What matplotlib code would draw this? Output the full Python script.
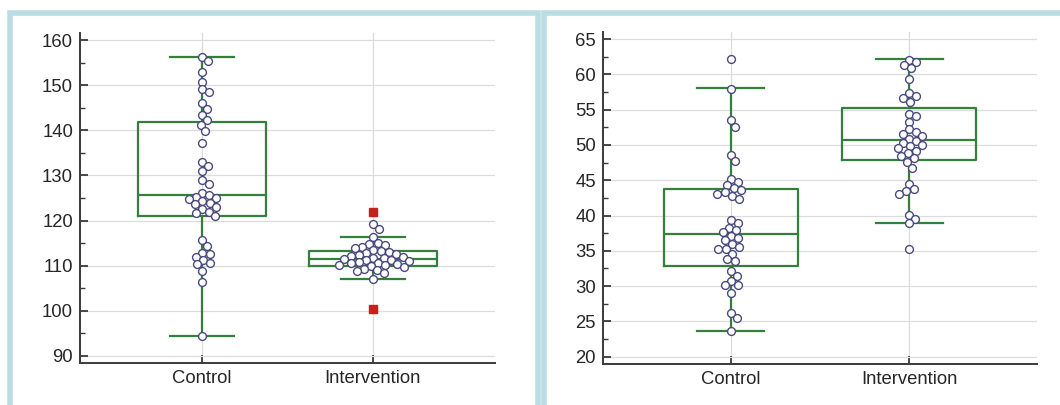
import matplotlib
matplotlib.use("Agg")
import matplotlib.pyplot as plt
import numpy as np
from matplotlib.patches import Rectangle
from matplotlib.ticker import MultipleLocator

plt.rcParams["font.family"] = ["Liberation Sans", "DejaVu Sans"]

groups = ["Control", "Intervention"]

# left panel: individual values
left_control = [156.2, 155.3, 153.0, 150.8, 149.2, 148.5, 146.0, 144.8, 143.5, 142.3,
                141.2, 139.8, 137.3, 132.9, 132.0, 131.0, 128.9, 128.2, 126.2, 125.6,
                125.3, 125.0, 124.8, 124.3, 124.0, 123.6, 123.0, 122.5, 122.0, 121.6,
                121.0, 115.6, 114.4, 112.9, 112.6, 111.9, 111.3, 110.6, 110.3, 108.9,
                106.4, 94.4]
left_interv = [119.2, 118.2, 116.3, 115.1, 114.9, 114.6, 114.2, 113.8, 113.4, 113.2,
               113.0, 112.8, 112.6, 112.4, 112.2, 112.0, 111.8, 111.7, 111.5, 111.3,
               111.2, 111.0, 110.8, 110.6, 110.5, 110.3, 110.2, 110.1, 109.9, 109.6,
               109.3, 109.0, 108.8, 108.4, 107.0]

# left panel: box summaries
left_med = [125.7, 111.5]
left_q1 = [121.1, 110.0]
left_q3 = [141.9, 113.2]
left_lo = [94.4, 107.1]
left_hi = [156.3, 116.4]
left_out = [[], [122.0, 100.4]]

# right panel: individual values
right_control = [62.2, 57.9, 53.5, 52.6, 48.6, 47.7, 45.2, 44.8, 44.3, 43.9,
                 43.6, 43.3, 43.1, 42.8, 42.4, 39.3, 38.9, 38.3, 37.9, 37.6,
                 37.1, 36.8, 36.5, 36.0, 35.6, 35.3, 35.2, 34.6, 33.8, 33.6,
                 32.1, 31.4, 30.7, 30.2, 30.1, 29.0, 26.2, 25.5, 23.6]
right_interv = [62.1, 61.7, 61.3, 60.9, 59.4, 57.3, 56.9, 56.6, 56.1, 54.4,
                54.1, 53.3, 52.2, 51.8, 51.5, 51.2, 50.9, 50.6, 50.3, 50.0,
                49.8, 49.5, 49.2, 48.8, 48.5, 48.1, 47.6, 46.8, 44.5, 43.7,
                43.5, 43.0, 40.1, 39.5, 38.9, 35.2]

# right panel: box summaries
right_med = [37.45, 50.7]
right_q1 = [32.9, 47.8]
right_q3 = [43.8, 55.2]
right_lo = [23.6, 38.9]
right_hi = [58.0, 62.2]
right_out = [[], []]

GREEN = "#33803a"
FRAME = "#badde4"


def swarm_x(ax, x0, vals, gap=7.2):
    # simple beeswarm in pixel space, points may overlap a little
    pts = ax.transData.transform([(x0, v) for v in vals])
    placed = []
    for px, py in pts:
        for k in range(300):
            off = (k + 1) // 2 * (1 if k % 2 else -1)
            cx = px + off
            if all((cx - qx) ** 2 + (py - qy) ** 2 >= gap ** 2 for qx, qy in placed):
                break
        placed.append((cx, py))
    return ax.transData.inverted().transform(placed)[:, 0]


def panel(ax, ctrl, interv, med, q1, q3, lo, hi, out, ylim, major, minor):
    ax.set_xlim(-0.715, 1.715)
    ax.set_ylim(*ylim)

    stats = []
    for i in range(2):
        stats.append(dict(med=med[i], q1=q1[i], q3=q3[i], whislo=lo[i],
                          whishi=hi[i], fliers=out[i]))
    line = dict(color=GREEN, linewidth=1.6)
    ax.bxp(stats, positions=[0, 1], widths=0.75, capwidths=0.375,
           boxprops=line, whiskerprops=line, capprops=line, medianprops=line,
           flierprops=dict(marker="s", markersize=6, markerfacecolor="#c3201e",
                           markeredgecolor="#c3201e", linestyle="none"),
           manage_ticks=False, zorder=2)

    for i, vals in enumerate([ctrl, interv]):
        xs = swarm_x(ax, i, vals)
        ax.scatter(xs, vals, s=32, facecolor="white", edgecolor="#4a4a7e",
                   linewidth=1.0, zorder=3)

    ax.set_xlim(-0.715, 1.715)
    ax.set_ylim(*ylim)
    ax.set_xticks([0, 1])
    ax.set_xticklabels(groups)
    ax.yaxis.set_major_locator(MultipleLocator(major))
    ax.yaxis.set_minor_locator(MultipleLocator(minor))
    ax.grid(True, color="#dcdcdc", linewidth=0.9, zorder=0)
    ax.set_axisbelow(True)
    for s in ["top", "right"]:
        ax.spines[s].set_visible(False)
    for s in ["left", "bottom"]:
        ax.spines[s].set_color("#3a3a3a")
        ax.spines[s].set_linewidth(1.4)
    ax.tick_params(axis="both", which="major", direction="in", length=6,
                   width=1.3, color="#3a3a3a", labelsize=13.3, labelcolor="#262626",
                   pad=5)
    ax.tick_params(axis="y", which="minor", direction="in", length=3.5,
                   width=1.0, color="#3a3a3a")


fig = plt.figure(figsize=(10.6, 4.05), dpi=100)
W, H = 1060, 405

ax1 = fig.add_axes([80 / W, (H - 363) / H, 415 / W, 330 / H])
ax2 = fig.add_axes([603 / W, (H - 364) / H, 434 / W, 332 / H])

panel(ax1, left_control, left_interv, left_med, left_q1, left_q3, left_lo,
      left_hi, left_out, (88.4, 161.6), 10, 5)
panel(ax2, right_control, right_interv, right_med, right_q1, right_q3, right_lo,
      right_hi, right_out, (18.96, 66.0), 5, 2.5)

# light blue frames round both panels, open at the bottom
for x0, x1 in [(10, 537.5), (544, 1064)]:
    fig.add_artist(Rectangle((x0 / W, -0.2), (x1 - x0) / W, 0.2 + (H - 13) / H,
                             transform=fig.transFigure, fill=False,
                             edgecolor=FRAME, linewidth=4.0, zorder=0))

fig.savefig("out.png", dpi=100)
